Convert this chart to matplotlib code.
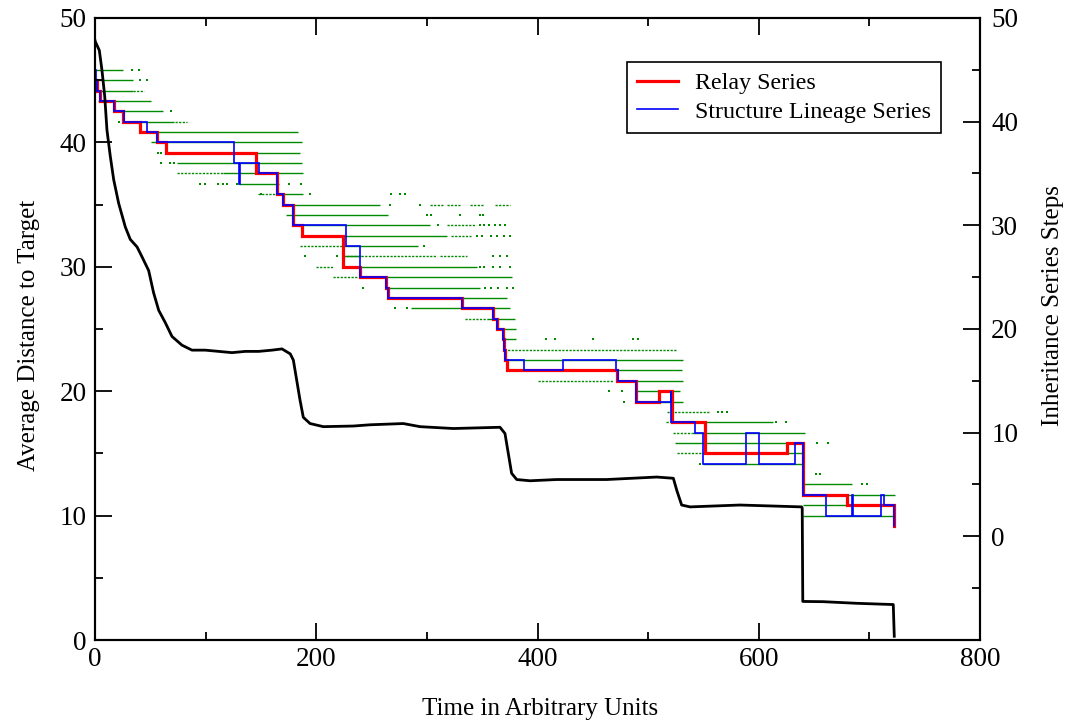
import matplotlib
matplotlib.use("Agg")
import matplotlib.pyplot as plt
from matplotlib.ticker import MultipleLocator, FixedLocator
from matplotlib.lines import Line2D

plt.rcParams['font.family'] = ['Liberation Serif', 'DejaVu Serif']

# Average distance to target (left axis)
dist_t = [0, 0.3, 3.9, 6.3, 8.8, 10.8, 13.8, 16.9, 21.4, 27.4, 31.9, 38, 42.5,
          48.5, 53, 57.6, 63.6, 69.6, 78.6, 87.7, 99.7, 111.8, 123.8, 135.9,
          148, 160, 169, 176.5, 179.3, 182.3, 185.3, 188.3, 194.4, 206.4,
          233.5, 248.6, 278.7, 293.8, 323.9, 366.1, 370.6, 373.6, 376.6,
          381.2, 393.2, 417.4, 462.6, 507.8, 522.8, 525.8, 530.3, 537.9, 583,
          638.8, 639.3, 639.8, 658.4, 688.5, 721.6, 722.5]
dist_val = [48.2, 48.1, 47.4, 45.8, 43.7, 41.0, 38.9, 37.0, 35.1, 33.2, 32.2,
            31.6, 30.8, 29.7, 27.9, 26.5, 25.5, 24.4, 23.7, 23.3, 23.3, 23.2,
            23.1, 23.2, 23.2, 23.3, 23.4, 23.0, 22.5, 20.9, 19.3, 17.9, 17.4,
            17.15, 17.2, 17.3, 17.4, 17.15, 17.0, 17.1, 16.6, 15.0, 13.4,
            12.9, 12.8, 12.9, 12.9, 13.1, 13.0, 12.06, 10.85, 10.7, 10.85,
            10.7, 10.6, 3.1, 3.08, 2.95, 2.85, 0.3]

# Relay series (right axis, step values)
relay_t = [0, 1.5, 4.8, 17.2, 25.7, 41, 55.9, 63.8, 145.7, 164.7, 170, 178.6,
           187.5, 224.3, 239.5, 263, 265, 331.4, 360, 363.6, 368.5, 369.6,
           370.6, 372.4, 471.6, 488.7, 509.8, 521.3, 551.4, 625.2, 640.3, 680,
           722.2, 722.2]
relay_step = [44, 43, 42, 41, 40, 39, 38, 37, 35, 33, 32, 30, 29, 26, 25, 24,
              23, 22, 21, 20, 19, 18, 17, 16, 15, 13, 14, 11, 8, 9, 4, 3, 3, 1]

# Structure lineage series (right axis, step values)
lineage_t = [0, 0.8, 1.5, 4.8, 17.2, 25.9, 47, 55.9, 125.2, 130.2, 130.9,
             148.5, 164.7, 170, 178.6, 226.9, 239.5, 263, 265, 331.4, 360,
             363.6, 368.8, 369.8, 370.6, 388, 423.3, 470.7, 472.4, 488.7,
             520.3, 521.0, 542.4, 549.9, 588.5, 600.5, 632.8, 640.3, 660.4,
             683.9, 685.4, 710.2, 713.5, 722.2, 722.2]
lineage_step = [45, 44, 43, 42, 41, 40, 39, 38, 36, 34, 36, 35, 33, 32, 30,
                28, 25, 24, 23, 22, 21, 20, 19, 18, 17, 16, 17, 16, 15, 13,
                14, 11, 10, 7, 10, 7, 9, 4, 2, 4, 2, 4, 3, 3, 1]

# Continuous inheritance spans per step
span_step = [45, 44, 43, 42, 41, 40, 39, 38, 37, 36, 35, 34, 33, 32, 31, 30,
             29, 28, 27, 26, 25, 24, 23, 22, 21, 20, 19, 17, 16, 15, 14, 13,
             11, 10, 9, 8, 7, 5, 4, 3, 2]
span_start = [0, 0, 0, 3, 17.2, 25.6, 40, 51, 64.2, 74, 116, 130, 170, 179,
              172.7, 187.7, 224.4, 224.4, 224.4, 224.4, 239.5, 263, 265, 286,
              354, 364.6, 368.5, 370.6, 372, 471.5, 488.7, 488.7, 521.3, 540,
              524.3, 550, 549.9, 640.3, 640.3, 640.3, 640.3]
span_end = [25.6, 34.6, 34, 50.6, 61.2, 71.7, 183.5, 187.4, 185.3, 186.8,
            188.3, 166, 188.3, 257.6, 265, 302.8, 317.8, 292.2, 240, 345,
            376.7, 348, 372, 375, 379.7, 381, 380.6, 531.8, 531, 531.8, 528.8,
            531.8, 613.2, 641.8, 640.3, 640.3, 640.3, 684, 723, 723, 723]

# Intermittent inheritance spans per step
sparse_step = [43, 40, 35, 33, 32, 32, 32, 32, 30, 29, 28, 27, 27, 26, 25, 21,
               18, 15, 12, 11, 10, 8]
sparse_start = [34, 72, 74, 147, 303, 318, 339, 361.6, 318, 322, 185, 224.4,
                311.9, 200, 215, 334.5, 369.7, 400.7, 516.7, 516, 522.8, 525.8]
sparse_end = [44.3, 83, 116, 170, 315, 330, 351, 375, 344, 340, 224.4, 308.8,
              336, 215.4, 236.5, 354, 525.8, 468.5, 556, 521, 540, 549.9]

# Isolated inheritance events
dot_step = [45, 45, 44, 44, 41, 40, 37, 37, 36, 36, 36, 34, 34, 34, 34, 34,
            34, 34, 34, 33, 33, 33, 33, 33, 32, 32, 31, 31, 31, 31, 31, 30,
            30, 30, 30, 30, 30, 30, 29, 29, 29, 29, 29, 29, 28, 27, 27, 27,
            27, 27, 26, 26, 26, 26, 26, 24, 24, 24, 24, 24, 24, 22, 22, 19,
            19, 19, 19, 19, 14, 14, 13, 12, 12, 12, 11, 11, 9, 9, 7, 6, 6, 6,
            5, 5]
dot_t = [33, 40, 40.7, 46.7, 68.7, 22, 57, 60, 59.7, 68, 71, 95, 99.4, 111.5,
         115.4, 119, 128, 175.6, 185.9, 194, 268, 275.7, 280, 150, 266.7,
         293.8, 300, 304, 330, 348, 351, 310, 348, 352, 356, 362, 366, 371,
         345, 350, 358, 363, 370, 375, 297, 190, 218.5, 360, 366, 372, 348,
         352, 360, 366, 375, 242, 352.5, 358, 364, 372, 378, 271, 281.8, 408,
         415.8, 450.5, 486.6, 491, 465, 476, 478, 563.4, 567, 571, 616, 625,
         652.3, 662.9, 547, 640.3, 652, 655, 693, 697.5]

GREEN = '#008a00'

fig = plt.figure(figsize=(10.67, 7.23), dpi=100)
ax = fig.add_axes([95 / 1067, 1 - 640 / 723, 885 / 1067, 622 / 723])
ax2 = ax.twinx()

# Inheritance structure on the right-hand scale
ax2.hlines(span_step, span_start, span_end, colors=GREEN, linewidth=1.0, zorder=1)
ax2.hlines(sparse_step, sparse_start, sparse_end, colors=GREEN, linewidth=1.0,
           linestyles=(0, (1.6, 1.0)), zorder=1)
ax2.plot(dot_t, dot_step, linestyle='none', marker='s', markersize=1.6,
         markeredgewidth=0, color=GREEN, zorder=1)
ax2.plot(relay_t, relay_step, drawstyle='steps-post', color='#ff0000',
         linewidth=2.3, zorder=2, solid_joinstyle='miter')
ax2.plot(lineage_t, lineage_step, drawstyle='steps-post', color='#0000ff',
         linewidth=1.2, zorder=3, solid_joinstyle='miter')

# Distance curve on the left-hand scale, drawn above the step series
ax.plot(dist_t, dist_val, color='black', linewidth=2.0, zorder=4)
ax.set_zorder(ax2.get_zorder() + 1)
ax.patch.set_visible(False)

ax.set_xlim(0, 800)
ax.set_ylim(0, 50)
ax2.set_ylim(-10, 50)

ax.xaxis.set_major_locator(MultipleLocator(200))
ax.xaxis.set_minor_locator(MultipleLocator(100))
ax.yaxis.set_major_locator(MultipleLocator(10))
ax.yaxis.set_minor_locator(MultipleLocator(5))
ax2.yaxis.set_major_locator(FixedLocator([0, 10, 20, 30, 40, 50]))
ax2.yaxis.set_minor_locator(FixedLocator([-5, 5, 15, 25, 35, 45]))

for a in (ax, ax2):
    for s in a.spines.values():
        s.set_linewidth(1.5)
ax.tick_params(which='both', direction='in', top=True, right=False,
               width=1.3, labelsize=19.5)
ax.tick_params(which='major', length=12)
ax.tick_params(which='minor', length=6)
ax.tick_params(axis='x', pad=5)
ax.tick_params(axis='y', pad=6)
ax2.tick_params(which='both', direction='in', width=1.3, labelsize=19.5, pad=8)
ax2.tick_params(which='major', length=12)
ax2.tick_params(which='minor', length=6)

ax.set_xlabel('Time in Arbitrary Units', fontsize=18)
ax.xaxis.set_label_coords(0.503, -0.093)
ax.set_ylabel('Average Distance to Target', fontsize=18)
ax.yaxis.set_label_coords(-0.062, 0.49)
ax2.set_ylabel('Inheritance Series Steps', fontsize=18)
ax2.yaxis.set_label_coords(1.070, 0.537)

handles = [Line2D([], [], color='#ff0000', linewidth=2.3),
           Line2D([], [], color='#0000ff', linewidth=1.2)]
leg = ax.legend(handles, ['Relay Series', 'Structure Lineage Series'],
                loc='upper left', bbox_to_anchor=(0.601, 0.929),
                borderaxespad=0, fontsize=17.3, frameon=True, fancybox=False,
                framealpha=1, edgecolor='black', handlelength=1.7,
                handletextpad=0.7, labelspacing=0.28, borderpad=0.42)
leg.get_frame().set_linewidth(1.2)

fig.savefig('out.png', dpi=100)
